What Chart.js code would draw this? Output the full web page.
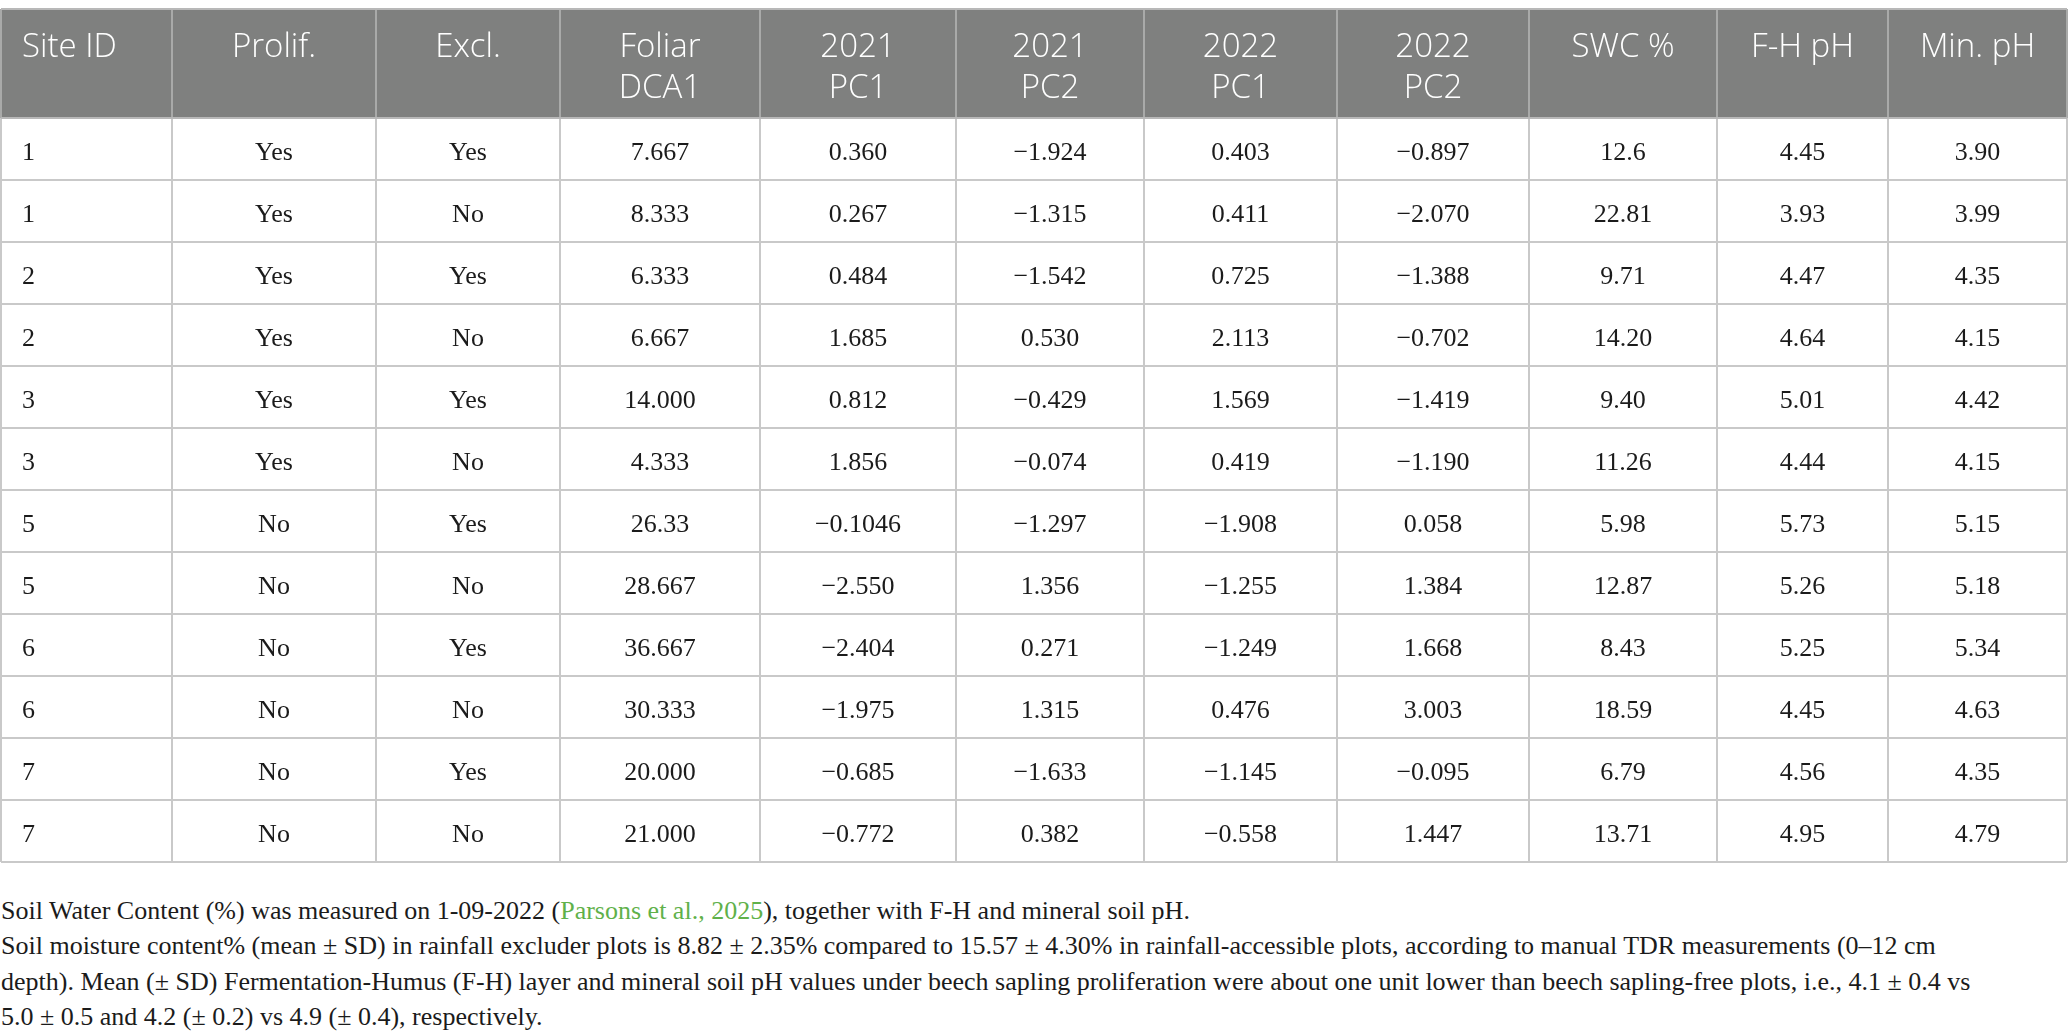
<!DOCTYPE html>
<html>
<head>
<meta charset="utf-8">
<script src="https://cdn.jsdelivr.net/npm/chart.js@4.4.1/dist/chart.umd.min.js"></script>
<style>
  html, body { margin: 0; padding: 0; background: #ffffff; width: 2068px; height: 1032px; overflow: hidden; }
  #wrap { position: absolute; left: 0; top: 7px; width: 2068px; height: 857px; }
  #note { position: absolute; left: 1px; top: 893px; width: 2068px; font-family: "Liberation Serif", serif;
          font-size: 26px; line-height: 35.4px; color: #1b1b1b; white-space: nowrap; }
  #note .ref { color: #5fb14a; }
  .preload { position: absolute; left: -9999px; top: 0; }
</style>
</head>
<body>
<span class="preload" style="font: 26px 'Liberation Serif'">Yes 1.0</span>
<span class="preload" style="font: 300 33px 'Open Sans'">Site ID</span>
<div id="wrap"><canvas id="c"></canvas></div>
<div id="note">
  <div>Soil Water Content (%) was measured on 1-09-2022 (<span class="ref">Parsons et al., 2025</span>), together with F-H and mineral soil pH.</div>
  <div>Soil moisture content% (mean ± SD) in rainfall excluder plots is 8.82 ± 2.35% compared to 15.57 ± 4.30% in rainfall-accessible plots, according to manual TDR measurements (0–12 cm</div>
  <div>depth). Mean (± SD) Fermentation-Humus (F-H) layer and mineral soil pH values under beech sapling proliferation were about one unit lower than beech sapling-free plots, i.e., 4.1 ± 0.4 vs</div>
  <div>5.0 ± 0.5 and 4.2 (± 0.2) vs 4.9 (± 0.4), respectively.</div>
</div>
<script>
// ---- data ----
const headers = [['Site ID'], ['Prolif.'], ['Excl.'], ['Foliar', 'DCA1'], ['2021', 'PC1'], ['2021', 'PC2'],
                 ['2022', 'PC1'], ['2022', 'PC2'], ['SWC %'], ['F-H pH'], ['Min. pH']];
const siteIds    = ['1', '1', '2', '2', '3', '3', '5', '5', '6', '6', '7', '7'];
const prolif     = ['Yes', 'Yes', 'Yes', 'Yes', 'Yes', 'Yes', 'No', 'No', 'No', 'No', 'No', 'No'];
const excl       = ['Yes', 'No', 'Yes', 'No', 'Yes', 'No', 'Yes', 'No', 'Yes', 'No', 'Yes', 'No'];
const foliarDCA1 = ['7.667', '8.333', '6.333', '6.667', '14.000', '4.333', '26.33', '28.667', '36.667', '30.333', '20.000', '21.000'];
const pc1_2021   = ['0.360', '0.267', '0.484', '1.685', '0.812', '1.856', '−0.1046', '−2.550', '−2.404', '−1.975', '−0.685', '−0.772'];
const pc2_2021   = ['−1.924', '−1.315', '−1.542', '0.530', '−0.429', '−0.074', '−1.297', '1.356', '0.271', '1.315', '−1.633', '0.382'];
const pc1_2022   = ['0.403', '0.411', '0.725', '2.113', '1.569', '0.419', '−1.908', '−1.255', '−1.249', '0.476', '−1.145', '−0.558'];
const pc2_2022   = ['−0.897', '−2.070', '−1.388', '−0.702', '−1.419', '−1.190', '0.058', '1.384', '1.668', '3.003', '−0.095', '1.447'];
const swcPct     = ['12.6', '22.81', '9.71', '14.20', '9.40', '11.26', '5.98', '12.87', '8.43', '18.59', '6.79', '13.71'];
const fhPH       = ['4.45', '3.93', '4.47', '4.64', '5.01', '4.44', '5.73', '5.26', '5.25', '4.45', '4.56', '4.95'];
const minPH      = ['3.90', '3.99', '4.35', '4.15', '4.42', '4.15', '5.15', '5.18', '5.34', '4.63', '4.35', '4.79'];

const columns = [siteIds, prolif, excl, foliarDCA1, pc1_2021, pc2_2021, pc1_2022, pc2_2022, swcPct, fhPH, minPH];

// ---- layout (scale units) ----
const colWidths = [171, 204, 184, 200, 196, 188, 193, 192, 188, 171, 179];
const headerUnits = 109 / 62;         // header height in row units
const nRows = siteIds.length;
const colEdges = [0];
colWidths.forEach(w => colEdges.push(colEdges[colEdges.length - 1] + w));
const totalW = colEdges[colEdges.length - 1];
const totalH = headerUnits + nRows;

const HEAD_FONT = '300 33px "Open Sans"';
const BODY_FONT = '26px "Liberation Serif"';

const tablePlugin = {
  id: 'tablePlugin',
  afterDraw(chart) {
    const ctx = chart.ctx;
    const xs = chart.scales.x, ys = chart.scales.y;
    const X = v => xs.getPixelForValue(v);
    const Y = v => ys.getPixelForValue(v);
    ctx.save();
    // header background
    ctx.fillStyle = '#7f807f';
    ctx.fillRect(X(0), Y(0), X(totalW) - X(0), Y(headerUnits) - Y(0));

    // body grid lines
    ctx.lineWidth = 2;
    ctx.strokeStyle = '#c9c9c9';
    for (let r = 1; r <= nRows; r++) {
      const y = Y(headerUnits + r);
      ctx.beginPath(); ctx.moveTo(X(0), y); ctx.lineTo(X(totalW), y); ctx.stroke();
    }
    colEdges.forEach(e => {
      ctx.beginPath(); ctx.moveTo(X(e), Y(headerUnits)); ctx.lineTo(X(e), Y(totalH)); ctx.stroke();
    });
    // header lines
    ctx.strokeStyle = '#a9aaa9';
    colEdges.forEach(e => {
      ctx.beginPath(); ctx.moveTo(X(e), Y(0)); ctx.lineTo(X(e), Y(headerUnits)); ctx.stroke();
    });
    ctx.strokeStyle = '#b8b8b8';
    [0, headerUnits].forEach(v => {
      ctx.beginPath(); ctx.moveTo(X(0), Y(v)); ctx.lineTo(X(totalW), Y(v)); ctx.stroke();
    });

    // header text
    const hTop = Y(0);
    ctx.fillStyle = '#ffffff';
    ctx.font = HEAD_FONT;
    ctx.textBaseline = 'alphabetic';
    headers.forEach((lines, c) => {
      lines.forEach((t, i) => {
        const y = hTop + 48 + i * 41;
        if (c === 0) { ctx.textAlign = 'left'; ctx.fillText(t, X(colEdges[0]) + 21, y); }
        else { ctx.textAlign = 'center'; ctx.fillText(t, (X(colEdges[c]) + X(colEdges[c + 1])) / 2, y); }
      });
    });

    // body text
    ctx.fillStyle = '#1b1b1b';
    ctx.font = BODY_FONT;
    columns.forEach((col, c) => {
      col.forEach((t, r) => {
        const yc = Y(headerUnits + r + 0.5) + 11;
        if (c === 0) { ctx.textAlign = 'left'; ctx.fillText(t, X(colEdges[0]) + 21, yc); }
        else { ctx.textAlign = 'center'; ctx.fillText(t, (X(colEdges[c]) + X(colEdges[c + 1])) / 2, yc); }
      });
    });
    ctx.restore();
  }
};

function build() {
  new Chart(document.getElementById('c'), {
    type: 'scatter',
    data: { datasets: [{ data: [], pointRadius: 0 }] },
    options: {
      responsive: true,
      maintainAspectRatio: false,
      animation: false,
      devicePixelRatio: 1,
      layout: { padding: { top: 2, bottom: 2, left: 1, right: 1 } },
      plugins: { legend: { display: false }, tooltip: { enabled: false }, title: { display: false } },
      scales: {
        x: { type: 'linear', min: 0, max: totalW, display: false },
        y: { type: 'linear', min: 0, max: totalH, reverse: true, display: false }
      }
    },
    plugins: [tablePlugin]
  });
}

Promise.all([document.fonts.load(HEAD_FONT, 'Site ID'), document.fonts.load(BODY_FONT, 'Yes 1.0')])
  .then(build, build);
</script>
</body>
</html>
